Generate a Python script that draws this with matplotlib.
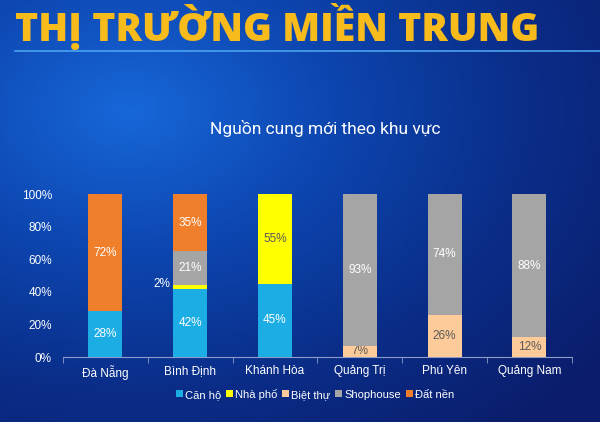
import numpy as np
import matplotlib.pyplot as plt
from matplotlib.colors import LinearSegmentedColormap

# dữ liệu
regions = ['Đà Nẵng', 'Bình Định', 'Khánh Hòa', 'Quảng Trị', 'Phú Yên', 'Quảng Nam']
can_ho = [28, 42, 45, 0, 0, 0]
nha_pho = [0, 2, 55, 0, 0, 0]
biet_thu = [0, 0, 0, 7, 26, 12]
shophouse = [0, 21, 0, 93, 74, 88]
dat_nen = [72, 35, 0, 0, 0, 0]

series = [
    ('Căn hộ', can_ho, '#1cade4', 'white'),
    ('Nhà phố', nha_pho, '#ffff00', '#595959'),
    ('Biệt thự', biet_thu, '#fdcb9a', '#595959'),
    ('Shophouse', shophouse, '#a5a5a5', 'white'),
    ('Đất nền', dat_nen, '#f07f2b', 'white'),
]

plt.rcParams['font.family'] = ['Liberation Sans', 'DejaVu Sans']

fig = plt.figure(figsize=(6, 4.22), dpi=100)

# nền gradient xanh
bg = fig.add_axes([0, 0, 1, 1], zorder=-10)
yy, xx = np.mgrid[0:422, 0:600]
d = np.sqrt(((xx - 130) / 600.0) ** 2 + ((yy - 110) / 422.0) ** 2)
t = np.clip(d / 1.0, 0, 1)
cmap = LinearSegmentedColormap.from_list('bg', ['#1767d9', '#0d46b0', '#0a2d88', '#0a1c6a'])
bg.imshow(t, cmap=cmap, aspect='auto', extent=[0, 600, 422, 0])
bg.plot([15, 600], [51, 51], color='#4aa3f0', lw=1.2)
bg.set_xlim(0, 600)
bg.set_ylim(422, 0)
bg.axis('off')

fig.text(0.025, 0.937, 'THỊ TRƯỜNG MIỀN TRUNG', color='#f7bb1c', fontsize=28.3,
         fontweight=800, family=['Open Sans', 'DejaVu Sans'], va='center', ha='left')
fig.text(0.542, 0.695, 'Nguồn cung mới theo khu vực', color='white', fontsize=12.5,
         family=['Roboto', 'DejaVu Sans'], ha='center', va='center')

ax = fig.add_axes([0.105, 0.154, 0.848, 0.386])
ax.patch.set_alpha(0)
x = np.arange(len(regions))
bottom = np.zeros(len(regions))
for name, vals, col, tcol in series:
    vals = np.array(vals, dtype=float)
    ax.bar(x, vals, 0.4, bottom=bottom, color=col, label=name, zorder=3)
    for i, v in enumerate(vals):
        if v <= 0:
            continue
        if v < 5 and name == 'Nhà phố':
            ax.text(x[i] - 0.23, bottom[i] + v / 2 + 2, f'{int(v)}%', color='white',
                    fontsize=8.5, ha='right', va='center')
        else:
            ax.text(x[i], bottom[i] + v / 2, f'{int(v)}%', color=tcol,
                    fontsize=8.5, ha='center', va='center')
    bottom += vals

ax.set_xlim(-0.5, len(regions) - 0.5)
ax.set_ylim(0, 100)
ax.set_yticks(range(0, 101, 20))
ax.set_yticklabels([f'{v}%' for v in range(0, 101, 20)])
ax.set_xticks(x)
ax.set_xticklabels(regions)
ax.set_xticks(np.arange(-0.5, len(regions), 1.0), minor=True)
ax.tick_params(axis='x', which='major', length=0, colors='white', labelsize=8.5, pad=6)
ax.tick_params(axis='x', which='minor', length=4, color='#8d9cc9', direction='out')
ax.tick_params(axis='y', length=0, colors='white', labelsize=8.5, pad=8)
for s in ['top', 'right', 'left']:
    ax.spines[s].set_visible(False)
ax.spines['bottom'].set_color('#8d9cc9')

leg = fig.legend(loc='center', bbox_to_anchor=(0.525, 0.066), ncol=5, frameon=False,
                 fontsize=8, handlelength=0.6, handleheight=0.6, handletextpad=0.2,
                 columnspacing=0.45, labelcolor='white')

fig.savefig('out.png', dpi=100)
